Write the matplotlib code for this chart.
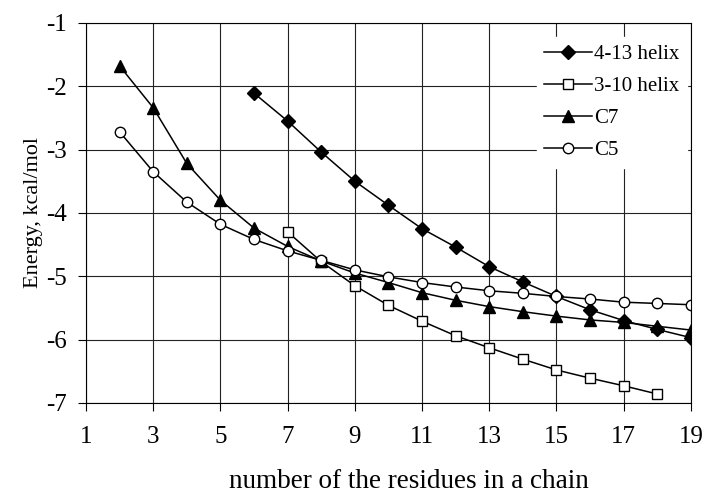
import matplotlib.pyplot as plt

# data
x_413 = [6, 7, 8, 9, 10, 11, 12, 13, 14, 15, 16, 17, 18, 19]
e_413 = [-2.11, -2.55, -3.04, -3.50, -3.88, -4.25, -4.54, -4.85, -5.09, -5.32, -5.53, -5.70, -5.84, -5.97]

x_310 = [7, 8, 9, 10, 11, 12, 13, 14, 15, 16, 17, 18]
e_310 = [-4.30, -4.77, -5.15, -5.46, -5.71, -5.94, -6.13, -6.31, -6.48, -6.61, -6.73, -6.86]

x_c7 = [2, 3, 4, 5, 6, 7, 8, 9, 10, 11, 12, 13, 14, 15, 16, 17, 18, 19]
e_c7 = [-1.68, -2.34, -3.22, -3.80, -4.24, -4.53, -4.76, -4.95, -5.10, -5.26, -5.38, -5.48, -5.56, -5.63, -5.69, -5.73, -5.79, -5.85]

x_c5 = [2, 3, 4, 5, 6, 7, 8, 9, 10, 11, 12, 13, 14, 15, 16, 17, 18, 19]
e_c5 = [-2.72, -3.35, -3.83, -4.18, -4.42, -4.60, -4.75, -4.90, -5.01, -5.10, -5.17, -5.23, -5.27, -5.32, -5.36, -5.41, -5.43, -5.45]

xticks = list(range(1, 20, 2))
yticks = list(range(-7, 0))

plt.rcParams['font.family'] = ['Liberation Serif', 'DejaVu Serif']
plt.rcParams['axes.unicode_minus'] = False

fig = plt.figure(figsize=(7.05, 4.98), dpi=100)
ax = fig.add_axes([0.122, 0.191, 0.858, 0.763])

ax.plot(x_413, e_413, color='black', lw=1.1, marker='D', ms=7.5, mfc='black', label='4-13 helix')
ax.plot(x_310, e_310, color='black', lw=1.1, marker='s', ms=7.5, mfc='white', mew=1.0, label='3-10 helix')
ax.plot(x_c7, e_c7, color='black', lw=1.1, marker='^', ms=9, mfc='black', label='C7')
ax.plot(x_c5, e_c5, color='black', lw=1.1, marker='o', ms=7.5, mfc='white', mew=1.0, label='C5')

ax.set_xlim(1, 19)
ax.set_ylim(-7, -1)
ax.set_xticks(xticks)
ax.set_yticks(yticks)
ax.grid(True, color='#222222', lw=0.8)
ax.set_axisbelow(True)
for s in ax.spines.values():
    s.set_linewidth(0.8)
ax.tick_params(direction='out', length=6, width=0.8, labelsize=18, pad=8)
ax.tick_params(axis='x', pad=11)

ax.set_xlabel('number of the residues in a chain', fontsize=19.5)
ax.xaxis.set_label_coords(0.534, -0.175)
ax.set_ylabel('Energy, kcal/mol', fontsize=16, labelpad=2)

leg = ax.legend(loc='upper right', bbox_to_anchor=(1.01, 0.99), fontsize=15,
                frameon=True, fancybox=False, framealpha=1, edgecolor='white',
                handlelength=2.3, handletextpad=0.1, labelspacing=0.6, borderpad=0.35)

fig.savefig('out.png', dpi=100)
